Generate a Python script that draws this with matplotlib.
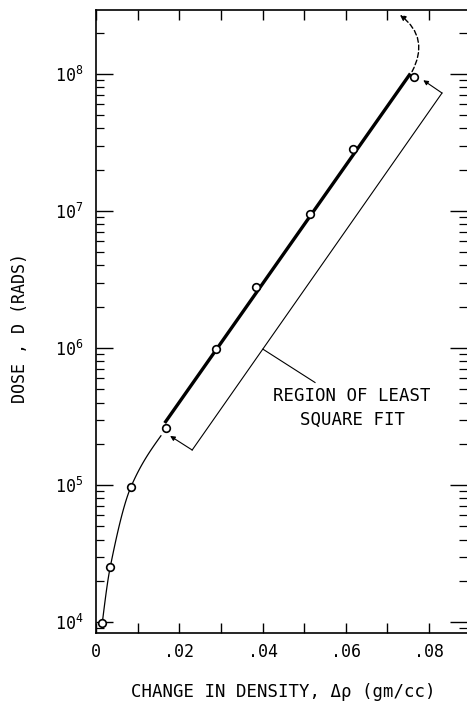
import numpy as np
import matplotlib
matplotlib.use('Agg')
import matplotlib.pyplot as plt
from matplotlib.patches import FancyArrowPatch
from matplotlib.ticker import FixedLocator, LogLocator, NullFormatter, FixedFormatter

# ---------------- data ----------------
delta_rho = [0.0015, 0.0034, 0.0084, 0.0169, 0.0288, 0.0384, 0.0514, 0.0617, 0.0764]
dose = [9.8e3, 2.5e4, 9.7e4, 2.6e5, 9.8e5, 2.8e6, 9.5e6, 2.85e7, 9.5e7]
fit_first_index = 3            # least-square fit region: points 4..9
fit_x_range = [0.0165, 0.0755]
curve_last_index = 3           # thin hand-drawn curve through points 1..4

xtick_values = [0.0, 0.01, 0.02, 0.03, 0.04, 0.05, 0.06, 0.07, 0.08]
xtick_labels = ['0', '', '.02', '', '.04', '', '.06', '', '.08']
ytick_values = [1e4, 1e5, 1e6, 1e7, 1e8]
ytick_labels = [r'$\mathregular{10^{4}}$', r'$\mathregular{10^{5}}$', r'$\mathregular{10^{6}}$',
                r'$\mathregular{10^{7}}$', r'$\mathregular{10^{8}}$']

bracket_corner_low = (0.0231, 1.80e5)
bracket_corner_high = (0.0831, 7.26e7)
bracket_tip_low = (0.0178, 2.28e5)
bracket_tip_high = (0.0786, 9.0e7)
leader_start = (0.0401, 9.8e5)
leader_end = (0.0526, 5.6e5)
note_pos = (0.0615, 3.65e5)
note_text = 'REGION OF LEAST\nSQUARE FIT'
dash_start = (0.0759, 1.04e8)
dash_end = (0.0730, 2.7e8)

xlabel = 'CHANGE IN DENSITY, \u0394\u03c1 (gm/cc)'
ylabel = 'DOSE , D (RADS)'

plt.rcParams['font.family'] = ['DejaVu Sans Mono', 'DejaVu Sans']

fig = plt.figure(figsize=(4.67, 7.01), dpi=100)
ax = fig.add_axes([96/467, 1-633/701, 1-96/467, (633-10)/701])
ax.set_yscale('log')
ax.set_xlim(0, 0.0891)
ax.set_ylim(8313, 2.93e8)

# data points
ax.plot(delta_rho, dose, 'o', ms=5.5, mfc='white', mec='black', mew=1.2, zorder=5)

# least square fit line
xf = np.array(delta_rho[fit_first_index:])
yf = np.log10(np.array(dose[fit_first_index:]))
b, a = np.polyfit(xf, yf, 1)
fx = np.array(fit_x_range)
ax.plot(fx, 10**(a + b*fx), color='black', lw=2.4, solid_capstyle='butt', zorder=4)

# thin curve: cubic Hermite through the first points, ending tangent to fit
xc = np.array(delta_rho[:curve_last_index+1])
yc = np.log10(np.array(dose[:curve_last_index+1]))
d = np.diff(yc) / np.diff(xc)
m = np.zeros_like(xc)
m[1:-1] = 2.0 / (1.0/d[:-1] + 1.0/d[1:])
m[0] = d[0] * 1.15
m[-1] = b
cx, cy = [], []
for i in range(len(xc) - 1):
    h = xc[i+1] - xc[i]
    t = np.linspace(0, 1, 40)
    h00 = 2*t**3 - 3*t**2 + 1
    h10 = t**3 - 2*t**2 + t
    h01 = -2*t**3 + 3*t**2
    h11 = t**3 - t**2
    cx.extend(xc[i] + t*h)
    cy.extend(h00*yc[i] + h10*h*m[i] + h01*yc[i+1] + h11*h*m[i+1])
cx = np.array(cx); cy = np.array(cy)
keep = cx <= xc[-1] - 0.0012
ax.plot(cx[keep], 10**cy[keep], color='black', lw=0.9, zorder=3)

# bracket
ax.plot([bracket_corner_low[0], bracket_corner_high[0]],
        [bracket_corner_low[1], bracket_corner_high[1]], color='black', lw=0.8)
ax.annotate('', xy=bracket_tip_low, xytext=bracket_corner_low,
            arrowprops=dict(arrowstyle='-|>', lw=0.8, color='black',
                            mutation_scale=7, shrinkA=0, shrinkB=0))
ax.annotate('', xy=bracket_tip_high, xytext=bracket_corner_high,
            arrowprops=dict(arrowstyle='-|>', lw=0.8, color='black',
                            mutation_scale=7, shrinkA=0, shrinkB=0))
ax.plot([leader_start[0], leader_end[0]], [leader_start[1], leader_end[1]],
        color='black', lw=0.8)
ax.text(note_pos[0], note_pos[1], note_text, ha='center', va='center',
        fontsize=12.5, linespacing=1.45)

# dashed extrapolation arrow
arr = FancyArrowPatch(dash_start, dash_end, connectionstyle='arc3,rad=0.42',
                      arrowstyle='-|>', mutation_scale=8, lw=1.0,
                      linestyle=(0, (3.5, 2)), color='black',
                      shrinkA=0, shrinkB=0, clip_on=False)
ax.add_patch(arr)

# ticks
ax.xaxis.set_major_locator(FixedLocator(xtick_values))
ax.xaxis.set_major_formatter(FixedFormatter(xtick_labels))
ax.yaxis.set_major_locator(FixedLocator(ytick_values))
ax.yaxis.set_major_formatter(FixedFormatter(ytick_labels))
ax.yaxis.set_minor_locator(LogLocator(base=10, subs=np.arange(2, 10)))
ax.yaxis.set_minor_formatter(NullFormatter())
ax.tick_params(axis='x', which='major', direction='in', length=7, width=1.0,
               top=True, bottom=True, labelsize=12, pad=7)
ax.tick_params(axis='y', which='major', direction='in', length=12, width=1.0,
               left=True, right=True, labelsize=12, pad=9)
ax.tick_params(axis='y', which='minor', direction='in', length=6, width=0.9,
               left=True, right=True)
for s in ['left', 'top', 'bottom']:
    ax.spines[s].set_linewidth(1.2)
ax.spines['right'].set_visible(False)

fig.text(283/467, 1-692/701, xlabel, ha='center', va='center', fontsize=12.5)
fig.text(20/467, 1-328/701, ylabel, ha='center', va='center', rotation=90,
         fontsize=12)

fig.savefig('out.png', dpi=100)
